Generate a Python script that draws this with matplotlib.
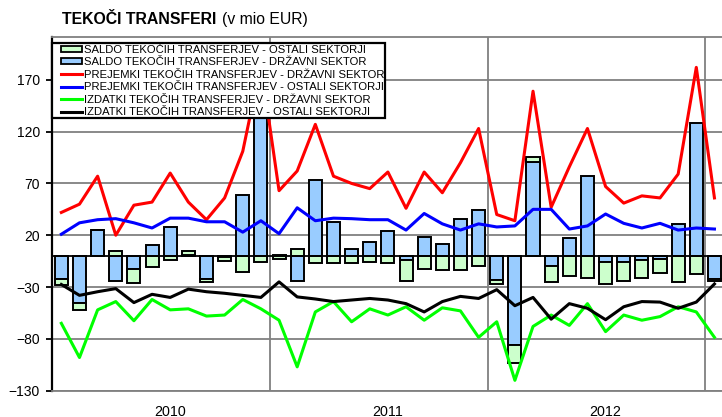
import numpy as np
import matplotlib
matplotlib.use('Agg')
import matplotlib.pyplot as plt
from matplotlib.patches import Patch
from matplotlib.lines import Line2D
from matplotlib.legend_handler import HandlerLine2D, HandlerPatch

plt.rcParams['font.family'] = ['Liberation Sans', 'DejaVu Sans']

# monthly data, Jan 2010 - Jan 2013 (v mio EUR)
years = ['2010', '2011', '2012']
prejemki_drz = [42, 50, 77, 20, 49, 52, 80, 52, 35, 56, 101, 185,
                63, 82, 127, 77, 70, 65, 81, 46, 81, 61, 90, 123,
                40, 34, 159, 47, 86, 123, 67, 51, 58, 56, 79, 182, 56]
prejemki_ost = [21, 32, 35, 36, 32, 27, 36.5, 36.5, 33, 33, 23, 34,
                21.5, 46.5, 34, 36.5, 36, 35, 35, 25, 41, 31, 25, 31,
                28, 29, 45, 45, 26, 29, 40.5, 31.5, 27, 31.5, 25, 27, 26]
izdatki_drz = [-65, -98, -52, -44, -62.5, -42, -52, -51, -58, -57, -42, -51,
               -62, -107, -54, -44, -63.5, -51, -57, -49, -62, -50, -53, -78.5,
               -63.5, -120, -68, -57, -67, -46, -73, -57, -62, -58.5, -49, -54, -78.5]
izdatki_ost = [-27.5, -38, -34.5, -31.5, -45, -37, -40, -32, -34.5, -36, -38, -40,
               -25, -39.5, -41.5, -44, -42.5, -41, -42.5, -46, -54, -44, -39, -41,
               -32.5, -48, -40, -61, -46, -50.5, -61.5, -49, -44, -44.5, -50.5, -44.5, -27]
saldo_drz = [-22.5, -45.5, 25, -24, -13, 11, 28, 0.6, -22.5, -1, 59, 134,
             1, -24, 73, 33, 6.3, 13.5, 24.5, -4, 18.5, 12, 36, 44.5,
             -23, -85.5, 90.5, -9.5, 17, 77, -5.5, -6, -4, -2.7, 30.5, 128.5, -22.5]
saldo_ost = [-5.5, -6.5, 0.3, 4.5, -12.7, -10.3, -3.5, 4.5, -2.2, -3.5, -15.5, -5.8,
             -3.3, 6.8, -7, -7.2, -7, -6, -6.7, -20, -12.3, -13.5, -14, -9.8,
             -3.8, -18, 5.3, -16, -19.8, -21.7, -21.3, -18.3, -17.5, -13.3, -25.4, -17.7, -1.3]

x = np.arange(len(prejemki_drz))
b = np.array(saldo_drz)
g = np.array(saldo_ost)
g_bottom = np.where(np.sign(g) == np.sign(b), b, 0)

fig = plt.figure(figsize=(7.22, 4.17), dpi=100)
ax = fig.add_axes([0.0724, 0.0631, 0.9297, 0.8474])

grey = '#808080'
ax.bar(x, b, width=0.72, color='#99CCFF', edgecolor='black', linewidth=1.4, zorder=2)
ax.bar(x, g, width=0.72, bottom=g_bottom, color='#CCFFCC', edgecolor='black',
       linewidth=1.4, zorder=2)
ax.axhline(0, color='black', lw=1.3, zorder=3)

lw = 2.2
ax.plot(x, prejemki_drz, color='#FF0000', lw=lw, zorder=4)
ax.plot(x, prejemki_ost, color='#0000FF', lw=lw, zorder=4)
ax.plot(x, izdatki_drz, color='#00FF00', lw=lw, zorder=4)
ax.plot(x, izdatki_ost, color='black', lw=lw, zorder=4)

ax.set_xlim(-0.5, len(x) - 0.5)
ax.set_ylim(-130, 211)
ax.set_yticks(np.arange(-130, 171, 50))
ax.yaxis.grid(True, color=grey, lw=1.3, zorder=0)

# year boundaries as gridlines, year names under July of each year
ax.set_xticks([11.5, 23.5, 35.5])
ax.set_xticklabels([])
ax.set_xticks([6, 18, 30], minor=True)
ax.set_xticklabels(years, minor=True)
ax.xaxis.grid(True, which='major', color=grey, lw=1.3, zorder=0)
ax.tick_params(axis='x', which='both', length=0, labelsize=10.3, pad=10)
ax.tick_params(axis='y', length=4, width=1.3, labelsize=10, pad=5)
ax.set_axisbelow(True)

ax.spines['left'].set_color('black')
ax.spines['left'].set_linewidth(1.6)
for s in ['top', 'right', 'bottom']:
    ax.spines[s].set_color(grey)
    ax.spines[s].set_linewidth(1.3)

handles = [
    Patch(facecolor='#CCFFCC', edgecolor='black', lw=1.3),
    Patch(facecolor='#99CCFF', edgecolor='black', lw=1.3),
    Line2D([], [], color='#FF0000', lw=2.2),
    Line2D([], [], color='#0000FF', lw=2.2),
    Line2D([], [], color='#00FF00', lw=2.2),
    Line2D([], [], color='black', lw=2.2),
]
labels = [
    'SALDO TEKOČIH TRANSFERJEV - OSTALI SEKTORJI',
    'SALDO TEKOČIH TRANSFERJEV - DRŽAVNI SEKTOR',
    'PREJEMKI TEKOČIH TRANSFERJEV - DRŽAVNI SEKTOR',
    'PREJEMKI TEKOČIH TRANSFERJEV - OSTALI SEKTORJI',
    'IZDATKI TEKOČIH TRANSFERJEV - DRŽAVNI SEKTOR',
    'IZDATKI TEKOČIH TRANSFERJEV - OSTALI SEKTORJI',
]
hmap = {Line2D: HandlerLine2D(xpad=0.7), Patch: HandlerPatch(xpad=0.7)}
leg = ax.legend(handles, labels, loc='upper left', bbox_to_anchor=(0, 1 - 6 / 353.4),
                borderaxespad=0, fontsize=8.1, handlelength=2.56, handleheight=0.45,
                handletextpad=0.1, labelspacing=0.22, borderpad=0.12,
                fancybox=False, framealpha=1, edgecolor='black', handler_map=hmap)
leg.get_frame().set_linewidth(1.6)
leg.set_zorder(5)

fig.text(62 / 722, 1 - 24 / 417, 'TEKOČI TRANSFERI', fontsize=11.4, fontweight='bold',
         va='baseline', ha='left')
fig.text(222 / 722, 1 - 24 / 417, '(v mio EUR)', fontsize=11.3, va='baseline', ha='left')

fig.savefig('out.png', dpi=100)
